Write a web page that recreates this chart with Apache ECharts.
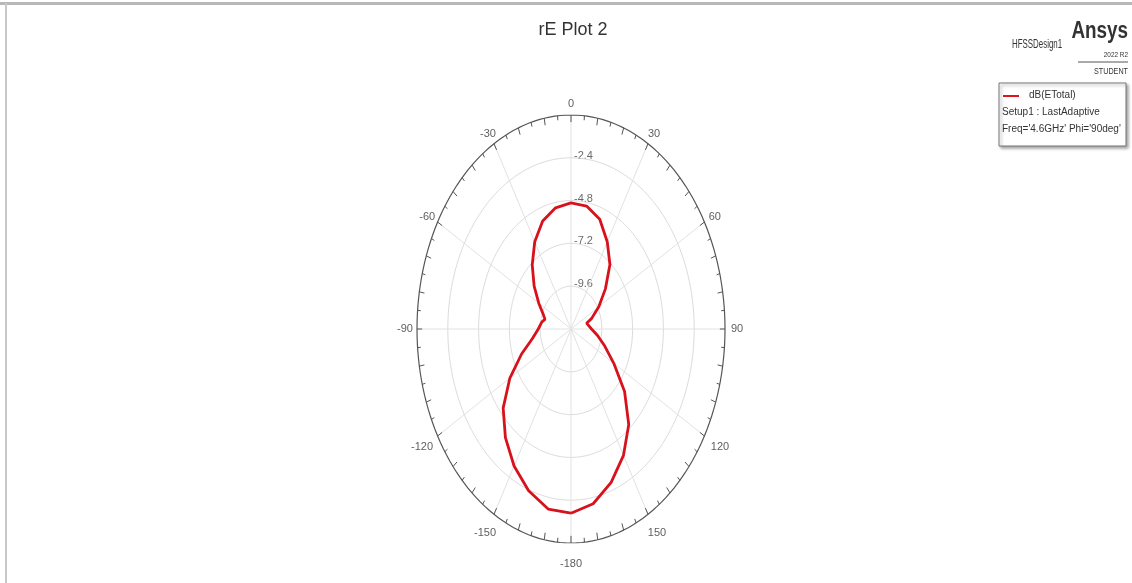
<!DOCTYPE html>
<html>
<head>
<meta charset="utf-8">
<title>rE Plot 2</title>
<script src="https://cdn.jsdelivr.net/npm/echarts@6/dist/echarts.min.js"></script>
<style>
  html, body { margin: 0; padding: 0; background: #fff; }
  #main { width: 1132px; height: 583px; }
</style>
</head>
<body>
<div id="main"></div>
<script>
// Theta (deg, clockwise from top) and dB(ETotal)
var angles = [-180, -170, -160, -150, -140, -130, -120, -110, -100, -90, -80, -75, -70, -60, -50, -40, -30, -20, -10,
              0, 10, 20, 30, 40, 50, 60, 70, 75, 80, 90, 100, 110, 120, 130, 140, 150, 160, 170, 180];
var dbValues = [-1.67, -1.75, -2.35, -3.13, -4.05, -5.1, -6.5, -7.9, -8.95, -9.45, -9.7, -9.9, -9.72, -9.1, -8.25, -7.3, -6.35, -5.55, -5.1,
                -4.93, -5.0, -5.45, -6.35, -7.28, -8.5, -9.5, -10.3, -10.74, -10.62, -10.4, -9.9, -9.2, -8.15, -6.55, -5.0, -3.82, -2.85, -2.05, -1.67];

// radial axis
var rMin = -12, rMax = 0;
var ringValues = [-2.4, -4.8, -7.2, -9.6];
var ringLabels = ['-2.4', '-4.8', '-7.2', '-9.6'];

// angular axis
var spokeAngles = [0, 30, 60, 90, 120, 150, 180, 210, 240, 270, 300, 330];
var angleTicks = [0, 30, 60, 90, 120, 150, 180, -150, -120, -90, -60, -30];
var angleLabels = ['0', '30', '60', '90', '120', '150', '-180', '-150', '-120', '-90', '-60', '-30'];

var legendLines = ['dB(ETotal)', 'Setup1 : LastAdaptive', "Freq='4.6GHz' Phi='90deg'"];

var font = '"Liberation Sans Narrow", "Liberation Sans", Arial, sans-serif';

// polar -> normalized x/y (the grid is taller than wide, so rings come out elliptical)
function toXY(deg, db) {
    var f = (db - rMin) / (rMax - rMin);
    var a = deg * Math.PI / 180;
    return [f * Math.sin(a), f * Math.cos(a)];
}

function ringData(db) {
    var d = [];
    for (var t = 0; t <= 360; t += 2) d.push(toXY(t, db));
    return d;
}

var series = [];

// grid rings
ringValues.forEach(function (v) {
    series.push({
        type: 'line', data: ringData(v), symbol: 'none', silent: true,
        lineStyle: { color: '#dcdcdc', width: 1 }
    });
});

// spokes
spokeAngles.forEach(function (t) {
    series.push({
        type: 'line', data: [toXY(t, rMin), toXY(t, rMax)], symbol: 'none', silent: true,
        lineStyle: { color: '#e2e2e2', width: 1 }
    });
});

// outer ring
series.push({
    type: 'line', data: ringData(rMax), symbol: 'none', silent: true,
    lineStyle: { color: '#555', width: 1.2 }
});

// ticks on the outer ring, every 5 degrees
var tickData = [];
for (var t = 0; t < 360; t += 5) {
    var len = (t % 10 === 0) ? 0.4 : 0.25;
    tickData.push(toXY(t, rMax - len));
    tickData.push(toXY(t, rMax));
    tickData.push('-');
}
series.push({
    type: 'line', data: tickData, symbol: 'none', silent: true, connectNulls: false,
    lineStyle: { color: '#555', width: 1 }
});

// pattern
var curve = angles.map(function (a, i) { return toXY(a, dbValues[i]); });
series.push({
    name: 'dB(ETotal)', type: 'line', data: curve, symbol: 'none',
    lineStyle: { color: '#d8121c', width: 2.8 }, z: 5
});

// angle labels
series.push({
    type: 'scatter', symbolSize: 0, silent: true,
    data: angleTicks.map(function (t, i) {
        var a = t * Math.PI / 180;
        var s = Math.sin(a), c = Math.cos(a);
        var dx = s * (c < 0 ? 18 : 12);
        var dy = -c * (c < 0 ? 21 : 11);
        return {
            value: toXY(t, rMax),
            label: { show: true, position: 'inside', offset: [dx, dy], formatter: angleLabels[i] }
        };
    }),
    label: { color: '#333', fontSize: 11, fontFamily: font }
});

// radial labels
series.push({
    type: 'scatter', symbolSize: 0, silent: true,
    data: ringValues.map(function (v, i) {
        return {
            value: toXY(0, v),
            label: { show: true, position: 'inside', align: 'left', offset: [3, -2], formatter: ringLabels[i] }
        };
    }),
    label: { color: '#444', fontSize: 11, fontFamily: font }
});

var chart = echarts.init(document.getElementById('main'));
chart.setOption({
    backgroundColor: '#fff',
    animation: false,
    title: {
        text: 'rE Plot 2', left: 568, top: 16, textAlign: 'center',
        textStyle: { fontSize: 18, fontWeight: 'normal', color: '#333', fontFamily: font }
    },
    grid: { left: 417, top: 115, width: 308, height: 428 },
    xAxis: { type: 'value', min: -1, max: 1, show: false },
    yAxis: { type: 'value', min: -1, max: 1, show: false },
    series: series,
    graphic: [
        // frame
        { type: 'line', shape: { x1: 0, y1: 3.5, x2: 1132, y2: 3.5 }, style: { stroke: '#b8b8b8', lineWidth: 3 } },
        { type: 'line', shape: { x1: 6, y1: 3, x2: 6, y2: 583 }, style: { stroke: '#c8c8c8', lineWidth: 2 } },
        // header (condensed like the HFSS font)
        { type: 'text', x: 1128, y: 20, scaleX: 0.82, style: { text: 'Ansys', align: 'right', fill: '#333', font: 'bold 23px ' + font } },
        { type: 'text', x: 1012, y: 39, scaleX: 0.66, style: { text: 'HFSSDesign1', fill: '#333', font: '12px ' + font } },
        { type: 'text', x: 1128, y: 51, scaleX: 0.8, style: { text: '2022 R2', align: 'right', fill: '#333', font: '8px ' + font } },
        { type: 'line', shape: { x1: 1078, y1: 62, x2: 1128, y2: 62 }, style: { stroke: '#555', lineWidth: 1 } },
        { type: 'text', x: 1128, y: 67, scaleX: 0.8, style: { text: 'STUDENT', align: 'right', fill: '#333', font: '9px ' + font } },
        // legend box
        { type: 'rect', shape: { x: 999, y: 83, width: 127, height: 63 },
          style: { fill: '#fff', stroke: '#777', lineWidth: 1, shadowBlur: 3, shadowOffsetX: 2, shadowOffsetY: 2, shadowColor: 'rgba(0,0,0,0.35)' } },
        { type: 'line', shape: { x1: 1003, y1: 96, x2: 1019, y2: 96 }, style: { stroke: '#e0141e', lineWidth: 2 } },
        { type: 'text', x: 1029, y: 90, style: { text: legendLines[0], fill: '#333', font: '10px ' + font } },
        { type: 'text', x: 1002, y: 107, style: { text: legendLines[1], fill: '#333', font: '10px ' + font } },
        { type: 'text', x: 1002, y: 124, style: { text: legendLines[2], fill: '#333', font: '10px ' + font } }
    ]
});
</script>
</body>
</html>
